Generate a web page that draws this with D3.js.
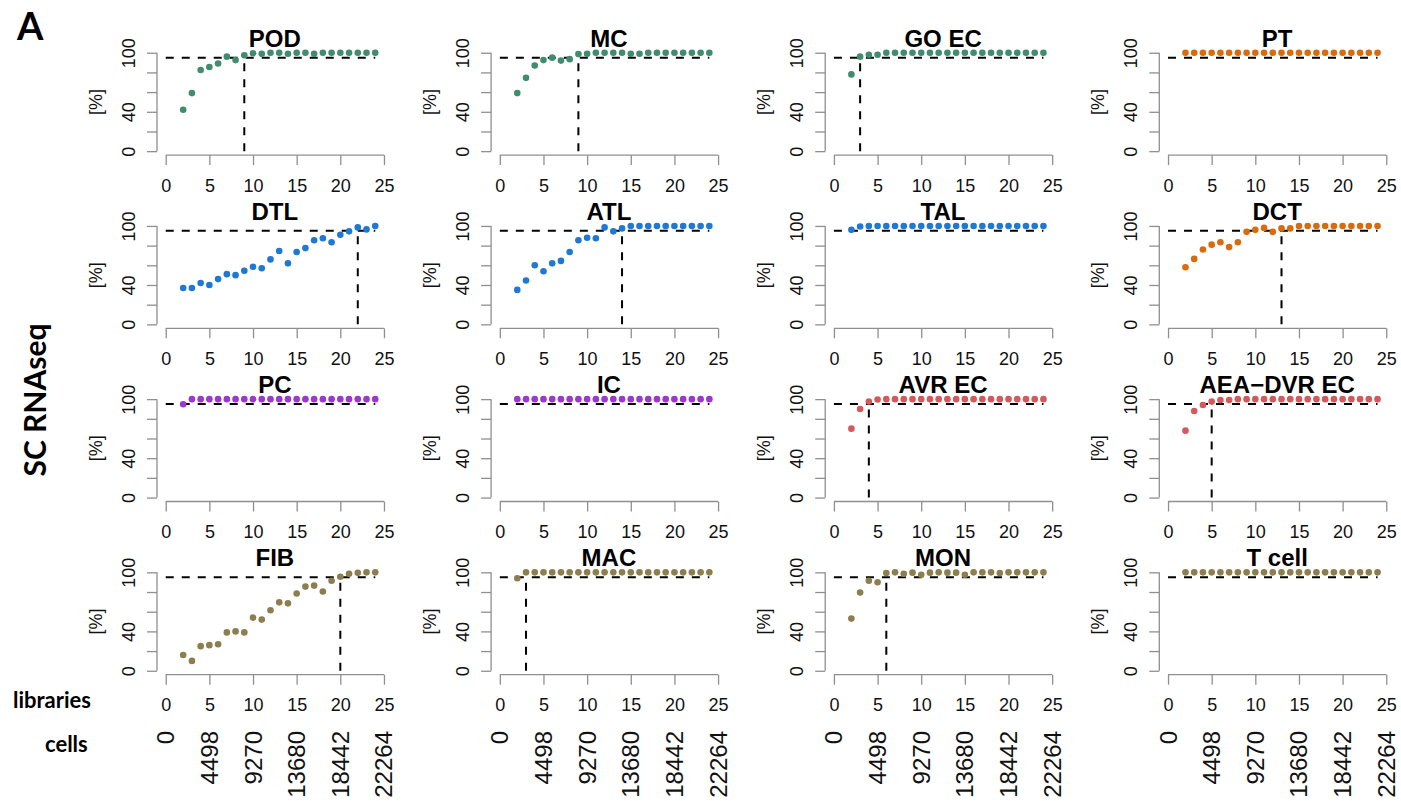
<!DOCTYPE html>
<html>
<head>
<meta charset="utf-8">
<script src="https://cdn.jsdelivr.net/npm/d3@7"></script>
<style>
body { margin: 0; background: #fff; }
svg { display: block; }
</style>
</head>
<body>
<svg id="chart"></svg>
<script>
// number of libraries pooled (x) and the matching cell counts
const libraries = [2, 3, 4, 5, 6, 7, 8, 9, 10, 11, 12, 13, 14, 15, 16, 17, 18, 19, 20, 21, 22, 23, 24];
const libTicks = [0, 5, 10, 15, 20, 25];
const cellTicks = ["0", "4498", "9270", "13680", "18442", "22264"];
const pctTicks = [0, 20, 40, 60, 80, 100];
const pctLabels = [0, 40, 100];
const threshold = 95;

const cellTypes = ["POD", "MC", "GO EC", "PT", "DTL", "ATL", "TAL", "DCT",
    "PC", "IC", "AVR EC", "AEA\u2212DVR EC", "FIB", "MAC", "MON", "T cell"];

// percent of genes detected, per cell type
const podPct = [42, 59, 82.5, 85.5, 89, 96, 92.5, 97.5, 99.5, 99, 100, 100, 99, 100, 100, 99, 100, 100, 100, 100, 100, 100, 100];
const mcPct = [59, 74.5, 87, 92.5, 95, 92, 93.5, 98.7, 99, 100, 100, 100, 100, 99, 99, 100, 100, 100, 100, 100, 100, 100, 100];
const goecPct = [78, 96, 98, 98, 100, 100, 100, 100, 100, 100, 100, 100, 100, 100, 100, 100, 100, 100, 100, 100, 100, 100, 100];
const ptPct = [100, 100, 100, 100, 100, 100, 100, 100, 100, 100, 100, 100, 100, 100, 100, 100, 100, 100, 100, 100, 100, 100, 100];
const dtlPct = [37, 37, 42, 40, 46, 51, 50, 54.5, 58.5, 57, 66, 74.5, 62, 73.5, 77.5, 85.5, 87.5, 83.5, 91, 94.5, 98.5, 96.5, 100];
const atlPct = [35, 44.5, 60, 54, 62, 64.5, 73.5, 85.5, 88, 87.5, 98.5, 94.5, 97.5, 100, 100, 100, 100, 100, 100, 100, 100, 100, 100];
const talPct = [96, 99.5, 100, 100, 100, 100, 100, 100, 100, 100, 100, 100, 100, 100, 100, 100, 100, 100, 100, 100, 100, 100, 100];
const dctPct = [58, 66.5, 76, 81, 83.5, 78.5, 83.5, 94, 96, 98, 94, 97.5, 97.5, 100, 100, 100, 100, 100, 100, 100, 100, 100, 100];
const pcPct = [94.8, 100, 100, 100, 100, 100, 100, 100, 100, 100, 100, 100, 100, 100, 100, 100, 100, 100, 100, 100, 100, 100, 100];
const icPct = [100, 100, 100, 100, 100, 100, 100, 100, 100, 100, 100, 100, 100, 100, 100, 100, 100, 100, 100, 100, 100, 100, 100];
const avrecPct = [70, 90, 97.5, 99.7, 100, 100, 100, 100, 100, 100, 100, 100, 100, 100, 100, 100, 100, 100, 100, 100, 100, 100, 100];
const aeaPct = [68, 88, 94, 97.5, 99, 99, 100, 100, 100, 100, 100, 100, 100, 100, 100, 100, 100, 100, 100, 100, 100, 100, 100];
const fibPct = [16, 10, 25, 26, 27, 39, 40, 39, 54, 52, 61.5, 69.5, 68.5, 78.5, 85.5, 86.5, 80.5, 91.5, 95.5, 98.5, 99.5, 100, 100];
const macPct = [94, 100, 100, 100, 100, 100, 100, 100, 100, 100, 100, 100, 100, 100, 100, 100, 100, 100, 100, 100, 100, 100, 100];
const monPct = [53, 79.5, 91.5, 90, 99.3, 100, 98.5, 99.7, 97.5, 99.7, 100, 99.7, 99.7, 97.5, 100, 100, 100, 99.3, 100, 100, 100, 100, 100];
const tcellPct = [100, 100, 100, 100, 100, 100, 100, 100, 100, 100, 100, 100, 100, 100, 100, 100, 100, 100, 100, 100, 100, 100, 100];

// library count where the curve stays above the threshold (null = no line)
const saturationAt = [9, 9, 3, null, 22, 14, null, 13, null, null, 4, 5, 20, 3, 6, null];

const allPct = [podPct, mcPct, goecPct, ptPct, dtlPct, atlPct, talPct, dctPct,
    pcPct, icPct, avrecPct, aeaPct, fibPct, macPct, monPct, tcellPct];

const green = "#3f8c6e", orange = "#da6a0c", blue = "#1f78d3",
    purple = "#9a38d0", red = "#d4595c", olive = "#8c7e4f";
const typeColors = [green, green, green, orange, blue, blue, blue, orange,
    purple, purple, red, red, olive, olive, olive, olive];

const W = 1401, H = 801;
const svg = d3.select("#chart").attr("width", W).attr("height", H);

const sans = "'Liberation Sans', Arial, sans-serif";
const boldSans = "Lato, 'Liberation Sans', sans-serif";
const axisGrey = "#8f8f8f";

// panel grid
const colLeft = 157, colStep = 334.1, panelW = 235.7;
const rowTop = 48.8, rowStep = 173.2, panelH = 106.3;

cellTypes.forEach((name, i) => {
    const col = i % 4, row = Math.floor(i / 4);
    const left = colLeft + col * colStep;
    const top = rowTop + row * rowStep;

    const x = d3.scaleLinear().domain([-1, 26]).range([left, left + panelW]);
    const y = d3.scaleLinear().domain([-4, 104]).range([top + panelH, top]);

    const g = svg.append("g");

    // x axis
    const xa = g.append("g")
        .attr("transform", `translate(0, ${y(-4)})`)
        .call(d3.axisBottom(x).tickValues(libTicks).tickSize(10).tickPadding(14));
    xa.select(".domain").remove();
    xa.append("line")
        .attr("x1", x(0)).attr("x2", x(25))
        .attr("stroke", axisGrey).attr("stroke-width", 1.3);
    xa.selectAll(".tick line").attr("stroke", axisGrey).attr("stroke-width", 1.3);
    xa.selectAll(".tick text")
        .attr("fill", "#111").attr("font-family", sans).attr("font-size", 18);

    // y axis
    const ya = g.append("g")
        .attr("transform", `translate(${x(-1)}, 0)`)
        .call(d3.axisLeft(y).tickValues(pctTicks).tickSize(10)
            .tickFormat(v => pctLabels.includes(v) ? v : ""));
    ya.select(".domain").remove();
    ya.append("line")
        .attr("y1", y(0)).attr("y2", y(100))
        .attr("stroke", axisGrey).attr("stroke-width", 1.3);
    ya.selectAll(".tick line").attr("stroke", axisGrey).attr("stroke-width", 1.3);
    ya.selectAll(".tick text")
        .attr("transform", "rotate(-90)")
        .attr("x", 0).attr("y", -22.5).attr("dy", 0)
        .attr("text-anchor", "middle")
        .attr("fill", "#111").attr("font-family", sans).attr("font-size", 18);

    g.append("text")
        .attr("transform", `translate(${x(-1) - 55}, ${y(50)}) rotate(-90)`)
        .attr("text-anchor", "middle")
        .attr("font-family", sans).attr("font-size", 18).attr("fill", "#111")
        .text("[%]");

    // title
    g.append("text")
        .attr("x", x(12.5)).attr("y", y(100) - 6)
        .attr("text-anchor", "middle")
        .attr("font-family", sans).attr("font-weight", "bold").attr("font-size", 24)
        .text(name);

    // threshold lines
    g.append("line")
        .attr("x1", x(0)).attr("x2", x(24))
        .attr("y1", y(threshold)).attr("y2", y(threshold))
        .attr("stroke", "#000").attr("stroke-width", 2).attr("stroke-dasharray", "8,8");
    if (saturationAt[i] !== null) {
        g.append("line")
            .attr("x1", x(saturationAt[i])).attr("x2", x(saturationAt[i]))
            .attr("y1", y(0)).attr("y2", y(threshold))
            .attr("stroke", "#000").attr("stroke-width", 2).attr("stroke-dasharray", "8,8");
    }

    // points
    g.selectAll("circle")
        .data(allPct[i])
        .enter()
        .append("circle")
        .attr("cx", (d, k) => x(libraries[k]))
        .attr("cy", d => y(d))
        .attr("r", 3.3)
        .attr("fill", typeColors[i]);

    // cell counts under the bottom row
    if (row === 3) {
        g.selectAll(".cells")
            .data(libTicks)
            .enter()
            .append("text")
            .attr("class", "cells")
            .attr("transform", (d) => `translate(${x(d) + 8.5}, 731) rotate(-90)`)
            .attr("text-anchor", "end")
            .attr("font-family", sans).attr("font-size", 24).attr("fill", "#111")
            .text((d, k) => cellTicks[k]);
    }
});

// figure labels
svg.append("text")
    .attr("x", 17).attr("y", 40)
    .attr("font-family", boldSans).attr("font-weight", "bold").attr("font-size", 38)
    .text("A");

svg.append("text")
    .attr("transform", "translate(46, 400) rotate(-90)")
    .attr("text-anchor", "middle")
    .attr("font-family", boldSans).attr("font-weight", "bold").attr("font-size", 30)
    .text("SC RNAseq");

svg.append("text")
    .attr("x", 13).attr("y", 708)
    .attr("font-family", boldSans).attr("font-weight", "bold").attr("font-size", 22)
    .text("libraries");

svg.append("text")
    .attr("x", 45).attr("y", 752)
    .attr("font-family", boldSans).attr("font-weight", "bold").attr("font-size", 22)
    .text("cells");
</script>
</body>
</html>
